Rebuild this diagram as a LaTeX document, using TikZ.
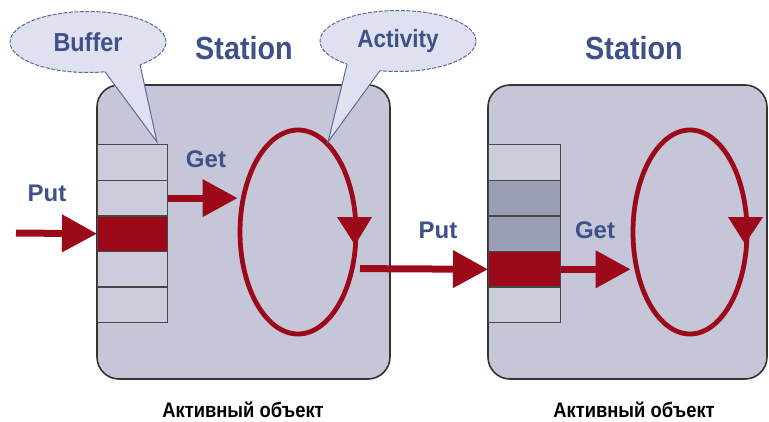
\documentclass[tikz,border=0pt]{standalone}
\usepackage{fontspec}
\setmainfont{Liberation Sans}
\newfontfamily\narrowfont[FakeStretch=0.9]{Liberation Sans}
\newfontfamily\capfont[FakeStretch=0.875]{Liberation Sans}
\usetikzlibrary{arrows.meta,shapes.geometric,calc}
\definecolor{boxfill}{HTML}{C5C7D9}
\definecolor{cellfill}{HTML}{CBCDDD}
\definecolor{celldark}{HTML}{9A9FB6}
\definecolor{darkred}{HTML}{9C0A1A}
\definecolor{txtblue}{HTML}{3E5189}
\definecolor{callfill}{HTML}{DFE0F0}
\definecolor{calledge}{HTML}{5A6A9A}
\definecolor{edgegray}{HTML}{333333}
\tikzset{
  stationbox/.style={draw=edgegray, line width=1.6pt, fill=boxfill, rounded corners=22pt, inner sep=0pt},
  cell/.style={draw=edgegray!90, line width=1.4pt, fill=cellfill, minimum width=#1, minimum height=35.6pt, inner sep=0pt, anchor=north west},
  loop/.style={ellipse, draw=darkred, line width=4.8pt, minimum width=116pt, minimum height=204pt, inner sep=0pt},
  redarrow/.style={draw=darkred, line width=7pt, -{Triangle[length=35pt, width=36pt, fill=darkred]}},
  calloutell/.style={ellipse, fill=callfill, draw=calledge, line width=1pt, dashed, dash pattern=on 4pt off 1.5pt, minimum width=156pt, minimum height=61pt, inner sep=0pt},
  title/.style={text=txtblue, font=\narrowfont\bfseries\fontsize{32}{36}\selectfont},
  arrlabel/.style={text=txtblue, font=\bfseries\fontsize{24}{28}\selectfont},
  calltext/.style={text=txtblue, font=\narrowfont\bfseries\fontsize{26}{30}\selectfont},
  caption/.style={text=black, font=\capfont\bfseries\fontsize{21}{24}\selectfont, anchor=base, inner sep=0pt},
}
\begin{document}
\begin{tikzpicture}[x=1pt, y=-1pt]
\useasboundingbox (0,0) rectangle (769,421);
% station boxes
\node[stationbox, minimum width=293pt, minimum height=294pt] (box1) at (243.5,232) {};
\node[stationbox, minimum width=279pt, minimum height=294pt] (box2) at (627.5,232) {};
% left buffer
\node[cell=70pt] (a1) at (97,144) {};
\node[cell=70pt] (a2) at (97,179.6) {};
\node[cell=70pt, fill=darkred] (a3) at (97,215.2) {};
\node[cell=70pt] (a4) at (97,250.8) {};
\node[cell=70pt] (a5) at (97,286.4) {};
% right buffer
\node[cell=72pt] (b1) at (488,144) {};
\node[cell=72pt, fill=celldark] (b2) at (488,179.6) {};
\node[cell=72pt, fill=celldark] (b3) at (488,215.2) {};
\node[cell=72pt, fill=darkred] (b4) at (488,250.8) {};
\node[cell=72pt] (b5) at (488,286.4) {};
% activity loops
\node[loop] (ell1) at (298,232) {};
\node[loop, minimum width=114pt] (ell2) at (690,232) {};
\fill[darkred] (337,217) -- (372,217) -- (355,245) -- cycle;
\fill[darkred] (728,217) -- (763,217) -- (745,244) -- cycle;
% arrows
\coordinate (putstart) at (16,233);
\coordinate (midstart) at (360,268.6);
\draw[redarrow] (putstart) -- (a3.west);
\draw[redarrow] (a2.east) -- (a2.east -| ell1.west);
\draw[redarrow] (midstart) -- (b4.west);
\draw[redarrow] (b4.east) -- (b4.east -| ell2.west);
% labels
\node[arrlabel] (put1) at (47,193) {Put};
\node[arrlabel] (get1) at (206,159) {Get};
\node[arrlabel] (put2) at (438,230) {Put};
\node[arrlabel] (get2) at (595,230) {Get};
\node[title] (st1) at (244,48) {Station};
\node[title] (st2) at (634,48) {Station};
\node[caption] (cap1) at (243,417.5) {Активный объект};
\node[caption] (cap2) at (634,417) {Активный объект};
% callouts
\node[calloutell] (bufc) at (88,42) {};
\coordinate (buftip) at (157,142);
\fill[callfill] (105,71.8) -- (104,60) -- (141,55) -- (140,64.5) -- (buftip) -- cycle;
\draw[calledge, line width=1pt] (105,71.8) -- (buftip) -- (140,64.5);
\node[calltext] at (bufc) {Buffer};
\node[calloutell] (actc) at (398,41) {};
\coordinate (acttip) at (328,142);
\fill[callfill] (347,64.2) -- (348,55) -- (381,60) -- (380,70.6) -- (acttip) -- cycle;
\draw[calledge, line width=1pt] (347,64.2) -- (acttip) -- (380,70.6);
\node[calltext, font=\narrowfont\bfseries\fontsize{25}{30}\selectfont] at (actc) {Activity};
\end{tikzpicture}
\end{document}
